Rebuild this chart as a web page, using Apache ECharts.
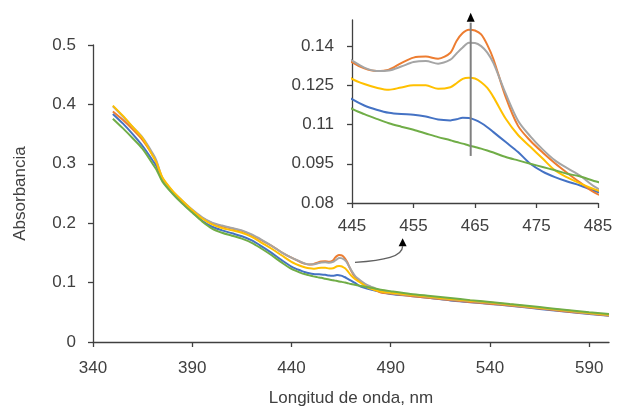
<!DOCTYPE html>
<html>
<head>
<meta charset="utf-8">
<script src="https://cdn.jsdelivr.net/npm/echarts@6/dist/echarts.min.js"></script>
<style>
  html, body { margin: 0; padding: 0; background: #fff; }
  #chart { width: 627px; height: 412px; }
</style>
</head>
<body>
<div id="chart"></div>
<script>
// longitud de onda (nm)
var wavelength = [350, 355, 360, 365, 370, 372, 375, 380, 385, 390, 395, 400, 405, 410, 415, 420, 425, 430, 435, 440,
  445, 447, 449, 451, 453, 455, 457, 459, 461, 462, 463, 464, 465, 466, 467, 468, 470, 472, 474, 476, 478, 480, 482, 485,
  490, 500, 510, 520, 530, 540, 550, 560, 570, 580, 590, 600];

// absorbancia de cada espectro
var blue = [.384, .368, .350, .330, .306, .296, .272, .251, .234, .219, .204, .194, .188, .183, .178, .171, .161, .150, .138, .127,
  .1197, .1173, .1157, .1145, .1140, .1138, .1131, .1119, .1116, .1120, .1126, .1125, .1118, .1106, .1090, .1071, .1033, .0995, .0950, .0920, .0899, .0882, .0868, .0842,
  .081, .0775, .074, .070, .067, .064, .061, .0575, .054, .0505, .047, .044];
var orange = [.388, .374, .358, .340, .315, .302, .274, .252, .235, .221, .209, .200, .195, .191, .187, .180, .171, .162, .151, .142,
  .1339, .1315, .1305, .1310, .1335, .1356, .1360, .1352, .1375, .1420, .1450, .1463, .1460, .1445, .1405, .1350, .1205, .1095, .1038, .0993, .0952, .0915, .0880, .0833,
  .0815, .0775, .074, .0705, .0675, .0645, .0615, .058, .0545, .051, .0478, .0448];
var gray = [.397, .380, .362, .344, .318, .305, .276, .254, .238, .223, .210, .201, .196, .192, .188, .181, .172, .162, .151, .142,
  .1345, .1318, .1305, .1307, .1322, .1339, .1343, .1333, .1348, .1372, .1395, .1413, .1412, .1400, .1375, .1335, .1218, .1115, .1055, .1005, .0963, .0933, .0906, .0855,
  .0825, .079, .0755, .072, .069, .066, .0625, .059, .0555, .052, .0485, .0455];
var yellow = [.398, .381, .362, .343, .314, .302, .277, .255, .238, .222, .208, .198, .192, .188, .184, .177, .167, .157, .146, .135,
  .1275, .1255, .1241, .1233, .1242, .1250, .1250, .1237, .1243, .1258, .1275, .1279, .1276, .1262, .1240, .1205, .1122, .1060, .1015, .0970, .0925, .0898, .0876, .0848,
  .0828, .0795, .076, .0725, .0695, .0665, .063, .0595, .056, .0525, .049, .046];
var green = [.376, .360, .343, .325, .300, .290, .270, .250, .233, .218, .203, .191, .184, .179, .174, .167, .157, .146, .134, .123,
  .1160, .1140, .1122, .1105, .1092, .1080, .1066, .1052, .1040, .1033, .1027, .1020, .1014, .1008, .1001, .0993, .0976, .0963, .0950, .0938, .0925, .0912, .0902, .0880,
  .0855, .081, .0775, .074, .0705, .0675, .064, .0605, .057, .0535, .050, .047];

var mainXTicks = [340, 390, 440, 490, 540, 590];
var mainYTicks = [0, 0.1, 0.2, 0.3, 0.4, 0.5];
var insetXTicks = [445, 455, 465, 475, 485];
var insetYTicks = [0.08, 0.095, 0.11, 0.125, 0.14];
var peakNm = 464.3;   // flecha vertical del recuadro

var colors = ['#4472C4', '#ED7D31', '#A5A5A5', '#FFC000', '#70AD47'];
var allSeries = [blue, orange, gray, yellow, green];

var font = '"Liberation Sans", Arial, sans-serif';
var fontSize = 17;
var textColor = '#404040';
var axisColor = '#404040';

function axisBase(ticks, min, max) {
  return {
    type: 'value',
    min: min,
    max: max,
    splitLine: { show: false },
    axisLine: { show: true, onZero: false, lineStyle: { color: axisColor, width: 1.3 } },
    axisTick: { show: true, length: 5, customValues: ticks, lineStyle: { color: axisColor, width: 1.3 } },
    axisLabel: {
      customValues: ticks, color: textColor, fontFamily: font, fontSize: fontSize,
      formatter: function (v) { return String(+v.toFixed(3)); }
    }
  };
}

var series = [];
allSeries.forEach(function (vals, i) {
  var pts = wavelength.map(function (w, j) { return [w, vals[j]]; });
  series.push({
    type: 'line', xAxisIndex: 0, yAxisIndex: 0, data: pts, showSymbol: false, smooth: 0.3,
    lineStyle: { color: colors[i], width: 2 }, itemStyle: { color: colors[i] }, silent: true
  });
  series.push({
    type: 'line', xAxisIndex: 1, yAxisIndex: 1, data: pts, showSymbol: false, smooth: 0.3, clip: true,
    lineStyle: { color: colors[i], width: 2 }, itemStyle: { color: colors[i] }, silent: true
  });
});

var mainX = axisBase(mainXTicks, 340, 600);
mainX.gridIndex = 0;
mainX.name = 'Longitud de onda, nm';
mainX.nameLocation = 'middle';
mainX.nameGap = 48;
mainX.nameTextStyle = { color: textColor, fontFamily: font, fontSize: fontSize };
mainX.axisLabel.margin = 18;

var mainY = axisBase(mainYTicks, 0, 0.5);
mainY.gridIndex = 0;
mainY.name = 'Absorbancia';
mainY.nameLocation = 'middle';
mainY.nameGap = 64;
mainY.nameTextStyle = { color: textColor, fontFamily: font, fontSize: fontSize };
mainY.axisLabel.margin = 17;

var insetX = axisBase(insetXTicks, 445, 485);
insetX.gridIndex = 1;
insetX.axisLabel.margin = 15;
var insetY = axisBase(insetYTicks, 0.08, 0.15);
insetY.gridIndex = 1;
insetY.axisLabel.margin = 18;

var myChart = echarts.init(document.getElementById('chart'));
myChart.setOption({
  backgroundColor: '#fff',
  animation: false,
  grid: [
    { left: 93, right: 18, top: 45, bottom: 70 },
    { left: 352, top: 20, width: 246, height: 183, show: false }
  ],
  xAxis: [mainX, insetX],
  yAxis: [mainY, insetY],
  series: series
});

// flechas (anotaciones)
var p0 = myChart.convertToPixel({ xAxisIndex: 1, yAxisIndex: 1 }, [peakNm, 0.098]);
var p1 = myChart.convertToPixel({ xAxisIndex: 1, yAxisIndex: 1 }, [peakNm, 0.1505]);
var s0 = myChart.convertToPixel({ xAxisIndex: 0, yAxisIndex: 0 }, [472, 0.134]);
var s1 = myChart.convertToPixel({ xAxisIndex: 0, yAxisIndex: 0 }, [496, 0.168]);

myChart.setOption({
  graphic: [
    { type: 'line', shape: { x1: p0[0], y1: p0[1], x2: p1[0], y2: p1[1] + 4 },
      style: { stroke: '#808080', lineWidth: 2 }, z: 100 },
    { type: 'polygon', shape: { points: [[p1[0], p1[1] - 6], [p1[0] - 4, p1[1] + 3], [p1[0] + 4, p1[1] + 3]] },
      style: { fill: '#000' }, z: 101 },
    { type: 'bezierCurve',
      shape: { x1: s0[0], y1: s0[1], cpx1: s0[0] + 30, cpy1: s0[1] - 2, cpx2: s1[0], cpy2: s0[1] - 6, x2: s1[0], y2: s1[1] + 4 },
      style: { stroke: '#606060', lineWidth: 1.3, fill: null }, z: 100 },
    { type: 'polygon', shape: { points: [[s1[0], s1[1] - 4], [s1[0] - 4, s1[1] + 4], [s1[0] + 4, s1[1] + 4]] },
      style: { fill: '#000' }, z: 101 }
  ]
});
</script>
</body>
</html>
